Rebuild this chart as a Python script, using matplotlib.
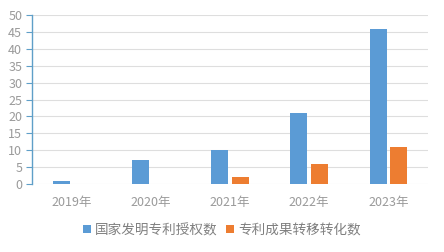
import numpy as np
import matplotlib
matplotlib.use("Agg")
import matplotlib.pyplot as plt

plt.rcParams["font.family"] = ["Noto Sans CJK SC", "DejaVu Sans"]

# ---------- 数据 ----------
years = ["2019年", "2020年", "2021年", "2022年", "2023年"]
patents_granted = [1, 7, 10, 21, 46]
patents_transferred = [0, 0, 2, 6, 11]
series_names = ["国家发明专利授权数", "专利成果转移转化数"]

BLUE = "#5b9bd5"
ORANGE = "#ed7d31"
GRAY = "#9a9a9a"
AXIS = "#5f9fc8"

fig = plt.figure(figsize=(4.44, 2.52), dpi=100)
ax = fig.add_axes([0.072, 0.270, 0.892, 0.670])

x = np.arange(len(years))
w = 0.215
off = 0.13
ax.bar(x - off, patents_granted, w, color=BLUE, label=series_names[0], zorder=3)
ax.bar(x + off, patents_transferred, w, color=ORANGE, label=series_names[1], zorder=3)

ax.set_xlim(-0.5, len(years) - 0.5)
ax.set_ylim(0, 50)
ax.set_yticks(range(0, 51, 5))
ax.set_xticks(x)
ax.set_xticklabels(years)

ax.grid(axis="y", color="#dedede", linewidth=0.8, zorder=0)
for s in ["top", "right", "bottom"]:
    ax.spines[s].set_visible(False)
ax.spines["left"].set_color(AXIS)
ax.spines["left"].set_linewidth(1.0)

ax.tick_params(axis="y", colors=GRAY, labelsize=9, length=4, color=AXIS,
               pad=3, direction="out")
ax.tick_params(axis="x", colors=GRAY, labelsize=9, length=0, pad=9)

# 图例按整张图居中
fig.legend(loc="center", bbox_to_anchor=(0.5, 1 - 230 / 252), ncol=2, frameon=False,
           fontsize=9.8, handlelength=0.55, handleheight=0.55, handletextpad=0.35,
           columnspacing=0.6, labelcolor="#808080", borderaxespad=0)

fig.savefig("out.png", dpi=100)
